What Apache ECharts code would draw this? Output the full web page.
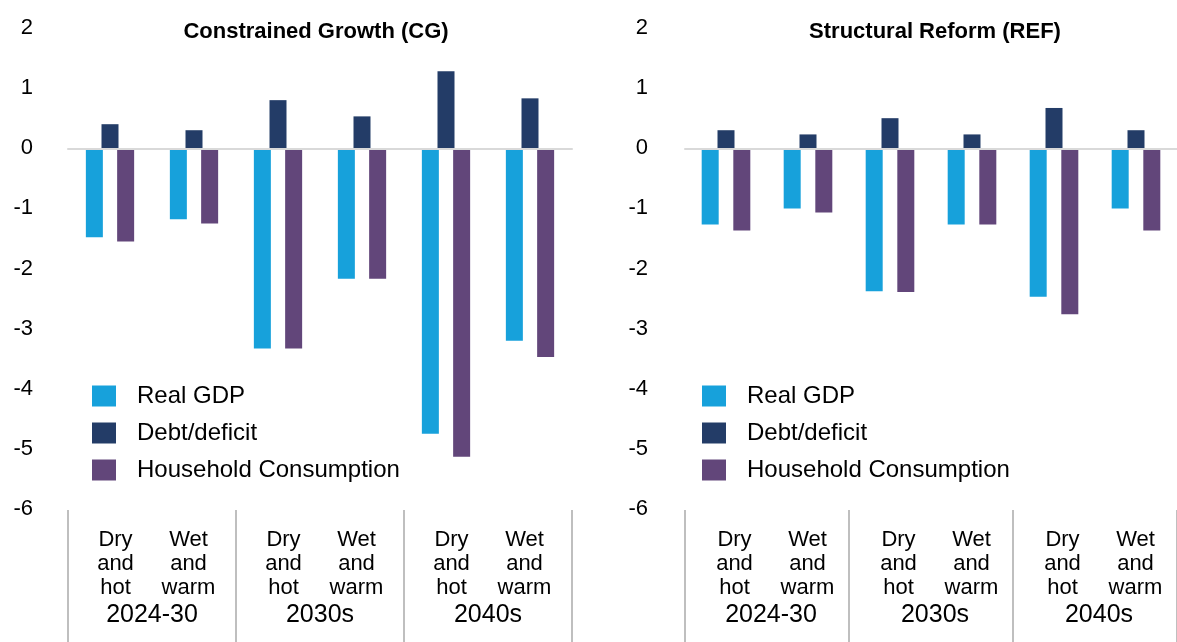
<!DOCTYPE html>
<html>
<head>
<meta charset="utf-8">
<script src="https://cdn.jsdelivr.net/npm/echarts@6/dist/echarts.min.js"></script>
<style>
	html, body { margin: 0; padding: 0; background: #fff; }
	#chart { width: 1177px; height: 642px; }
</style>
</head>
<body>
<div id="chart"></div>
<script>
/* 數據 */
const periods = ["2024-30", "2030s", "2040s"];
const scenarioLines = [
	["Dry", "and", "hot"],
	["Wet", "and", "warm"],
];
const categories = [
	"Dry and hot 2024-30", "Wet and warm 2024-30",
	"Dry and hot 2030s", "Wet and warm 2030s",
	"Dry and hot 2040s", "Wet and warm 2040s",
];
const seriesNames = ["Real GDP", "Debt/deficit", "Household Consumption"];
const seriesColors = ["#17a1db", "#233c67", "#62467a"];
const titles = ["Constrained Growth (CG)", "Structural Reform (REF)"];

const cgGdp = [-1.48, -1.18, -3.33, -2.17, -4.75, -3.2];
const cgDebt = [0.4, 0.3, 0.8, 0.53, 1.28, 0.83];
const cgHousehold = [-1.55, -1.25, -3.33, -2.17, -5.13, -3.47];

const refGdp = [-1.27, -1.0, -2.38, -1.27, -2.47, -1.0];
const refDebt = [0.3, 0.23, 0.5, 0.23, 0.67, 0.3];
const refHousehold = [-1.37, -1.07, -2.39, -1.27, -2.76, -1.37];

const yTicks = { min: -6, max: 2, interval: 1 };

const FONT = "'Liberation Sans', Arial, sans-serif";

const chart = echarts.init(document.getElementById("chart"));

/* 底部分組標籤 */
const groupLabel = (pad) => ({
	interval: 0,
	margin: 18,
	padding: [0, 0, 0, pad],
	formatter: (value) => {
		const rows = [0, 1, 2].map(
			(i) => `{a|${scenarioLines[0][i]}}{a|${scenarioLines[1][i]}}`
		);
		return rows.join("\n") + `\n{y|${value}}`;
	},
	rich: {
		a: { width: 73, align: "center", fontSize: 22, lineHeight: 24, color: "#000", fontFamily: FONT },
		y: { align: "center", fontSize: 25, lineHeight: 30, color: "#000", fontFamily: FONT },
	},
});

const valueAxis = (gridIndex, margin) => ({
	type: "value",
	gridIndex,
	min: yTicks.min,
	max: yTicks.max,
	interval: yTicks.interval,
	splitLine: { show: false },
	axisLine: { show: false },
	axisTick: { show: false },
	axisLabel: { margin, fontSize: 22, color: "#000", fontFamily: FONT },
});

const barAxis = (gridIndex) => ({
	type: "category",
	gridIndex,
	data: categories,
	z: 3,
	axisTick: { show: false },
	axisLabel: { show: false },
	axisLine: { lineStyle: { color: "#d9d9d9", width: 2 } },
});

const labelAxis = (gridIndex, pad) => ({
	type: "category",
	gridIndex,
	data: periods,
	axisLine: { show: false },
	axisTick: { show: true, length: 133, lineStyle: { color: "#bfbfbf", width: 2 } },
	axisLabel: groupLabel(pad),
});

const hiddenAxis = (gridIndex) => ({ type: "value", gridIndex, show: false });

const makeBar = (name, data, axisIndex, barGap) => ({
	type: "bar",
	name,
	data,
	xAxisIndex: axisIndex,
	yAxisIndex: axisIndex,
	barWidth: 17,
	barGap,
	itemStyle: { color: seriesColors[seriesNames.indexOf(name)] },
	emphasis: { disabled: true },
});

const legendAt = (left) => ({
	left,
	top: 384,
	orient: "vertical",
	padding: 0,
	icon: "rect",
	itemWidth: 24,
	itemHeight: 21,
	itemGap: 13,
	selectedMode: false,
	data: seriesNames,
	textStyle: { fontSize: 24, lineHeight: 24, color: "#000", fontFamily: FONT, padding: [0, 0, 0, 16] },
});

const titleAt = (text, left) => ({
	text,
	left,
	top: 21,
	textAlign: "center",
	padding: 0,
	textStyle: { fontSize: 22, fontWeight: "bold", color: "#000", fontFamily: FONT },
});

chart.setOption({
	animation: false,
	title: [titleAt(titles[0], 316), titleAt(titles[1], 935)],
	legend: [legendAt(92), legendAt(702)],
	grid: [
		{ left: 68, top: 28, width: 504, height: 481 },
		{ left: 685, top: 28, width: 498, height: 481 },
		{ left: 68, top: 509, width: 504, height: 1 },
		{ left: 685, top: 509, width: 498, height: 1 },
	],
	xAxis: [barAxis(0), barAxis(1), labelAxis(2, 0), labelAxis(3, 8)],
	yAxis: [valueAxis(0, 35), valueAxis(1, 37), hiddenAxis(2), hiddenAxis(3)],
	series: [
		makeBar("Real GDP", cgGdp, 0, "-8%"),
		makeBar("Debt/deficit", cgDebt, 0, "-8%"),
		makeBar("Household Consumption", cgHousehold, 0, "-8%"),
		makeBar("Real GDP", refGdp, 1, "-7%"),
		makeBar("Debt/deficit", refDebt, 1, "-7%"),
		makeBar("Household Consumption", refHousehold, 1, "-7%"),
	],
});
</script>
</body>
</html>
